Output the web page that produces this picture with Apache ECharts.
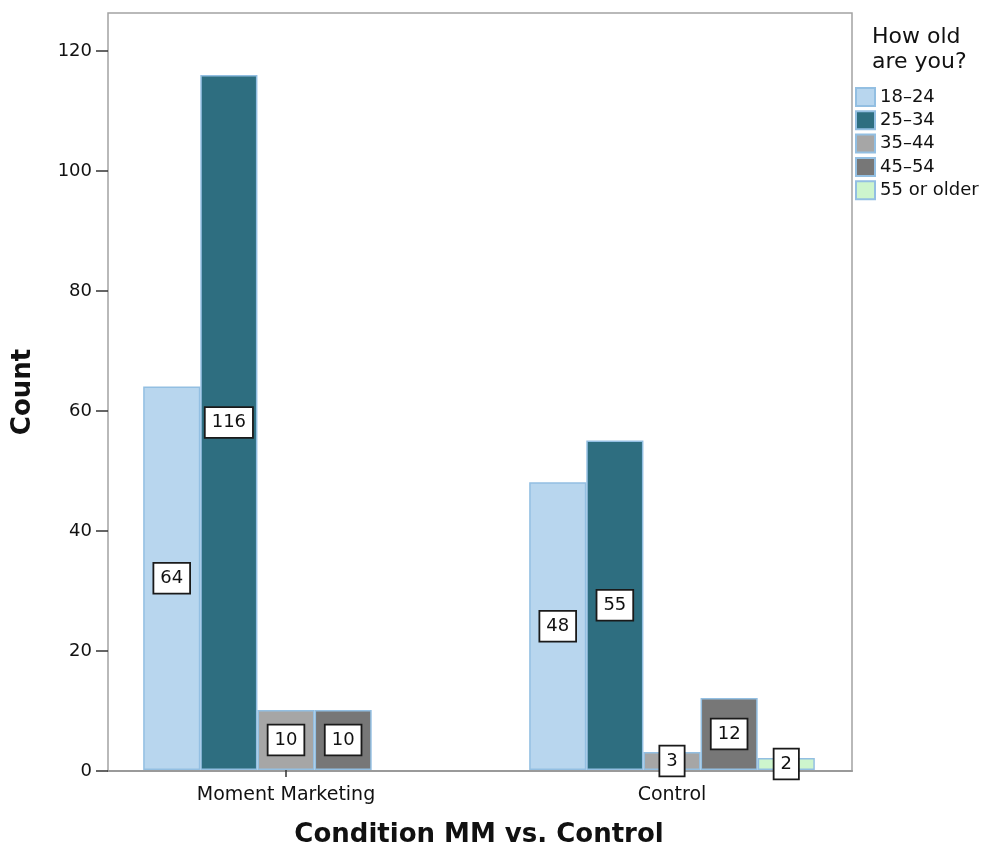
<!DOCTYPE html>
<html>
<head>
<meta charset="utf-8">
<script src="https://cdn.jsdelivr.net/npm/echarts@6/dist/echarts.min.js"></script>
<style>
  html, body { margin: 0; padding: 0; background: #fff; }
  #chart { width: 990px; height: 853px; }
</style>
</head>
<body>
<div id="chart"></div>
<script>
// Respondent counts by condition and age band
const conditions = ['Moment Marketing', 'Control'];
const ageGroups = ['18–24', '25–34', '35–44', '45–54', '55 or older'];
const age18to24 = [64, 48];
const age25to34 = [116, 55];
const age35to44 = [10, 3];
const age45to54 = [10, 12];
const age55plus = [null, 2];
const yTicks = [0, 20, 40, 60, 80, 100, 120];

const seriesValues = [age18to24, age25to34, age35to44, age45to54, age55plus];
const fills = ['#b8d6ee', '#2e6e80', '#a6a6a6', '#777777', '#cdf5cd'];
const FONT = 'DejaVu Sans';
const Y_MAX = 126.33;

const chart = echarts.init(document.getElementById('chart'), null, { renderer: 'canvas' });

const series = ageGroups.map((name, i) => ({
  name: name,
  type: 'bar',
  xAxisIndex: 1,
  yAxisIndex: 1,
  barGap: '0%',
  barCategoryGap: '26%',
  data: seriesValues[i],
  itemStyle: { color: fills[i], borderColor: '#93bfe2', borderWidth: 1.5 },
  label: {
    show: true,
    position: 'inside',
    fontFamily: FONT,
    fontSize: 18,
    color: '#111',
    backgroundColor: '#fff',
    borderColor: '#1a1a1a',
    borderWidth: 1.8,
    padding: [6, 6, 5, 6]
  },
  emphasis: { disabled: true }
}));

chart.setOption({
  animation: false,
  backgroundColor: '#fff',
  title: {
    text: 'How old\nare you?',
    left: 867,
    top: 20,
    textStyle: { fontFamily: FONT, fontSize: 22, fontWeight: 'normal', color: '#111', lineHeight: 25 }
  },
  legend: {
    orient: 'vertical',
    left: 850,
    top: 82,
    itemWidth: 19,
    itemHeight: 18,
    itemGap: 3.3,
    icon: 'rect',
    data: ageGroups,
    textStyle: { fontFamily: FONT, fontSize: 18, lineHeight: 18, color: '#111' }
  },
  grid: [
    { left: 108, right: 138, top: 13, bottom: 82, show: true, borderColor: '#a3a3a3', borderWidth: 1.5, backgroundColor: 'transparent' },
    { left: 93, width: 772, top: 13, bottom: 82 }
  ],
  xAxis: [
    {
      gridIndex: 0, type: 'value', min: 0, max: 1,
      axisLine: { show: true, lineStyle: { color: '#9a9a9a', width: 2 } },
      axisTick: { show: false }, axisLabel: { show: false }, splitLine: { show: false }
    },
    {
      gridIndex: 1, type: 'category', data: conditions,
      axisLine: { show: false },
      axisTick: { show: true, alignWithLabel: true, length: 7, lineStyle: { color: '#333', width: 1.5 } },
      axisLabel: { fontFamily: FONT, fontSize: 19, color: '#111', margin: 16 },
      name: 'Condition MM vs. Control',
      nameLocation: 'middle',
      nameGap: 52,
      nameTextStyle: { fontFamily: FONT, fontSize: 26, fontWeight: 'bold', color: '#111', verticalAlign: 'top' }
    }
  ],
  yAxis: [
    {
      gridIndex: 0, type: 'value', min: 0, max: Y_MAX, interval: 20,
      axisLine: { show: false },
      axisTick: { show: true, customValues: yTicks, length: 12, lineStyle: { color: '#333', width: 1.5 } },
      axisLabel: { customValues: yTicks, fontFamily: FONT, fontSize: 18, color: '#111', margin: 16 },
      splitLine: { show: false },
      name: 'Count',
      nameLocation: 'middle',
      nameGap: 72,
      nameRotate: 90,
      nameTextStyle: { fontFamily: FONT, fontSize: 26, fontWeight: 'bold', color: '#111' }
    },
    {
      gridIndex: 1, type: 'value', min: 0, max: Y_MAX,
      show: false, splitLine: { show: false }
    }
  ],
  series: series
});
</script>
</body>
</html>
